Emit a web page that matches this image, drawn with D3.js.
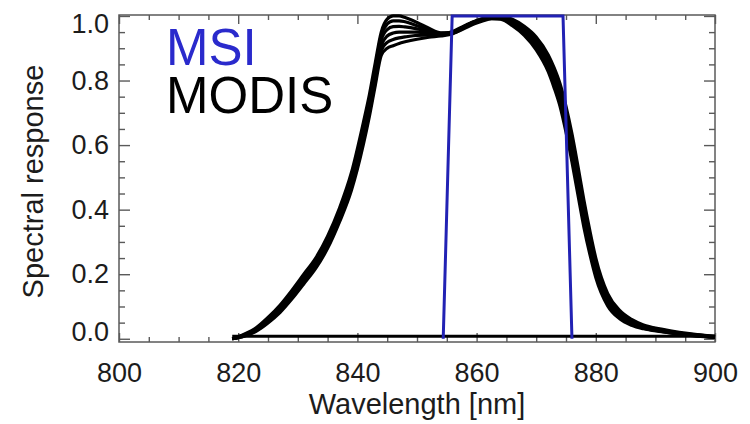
<!DOCTYPE html>
<html>
<head>
<meta charset="utf-8">
<script src="https://cdn.jsdelivr.net/npm/d3@7/dist/d3.min.js"></script>
<style>
  html, body { margin: 0; padding: 0; background: #fff; }
  svg { display: block; font-family: "Liberation Sans", Arial, Helvetica, sans-serif; }
</style>
</head>
<body>
<div id="chart"></div>
<script>
// spectral response, MSI band vs MODIS detectors
// D3 v7, static svg

// ─── Data ─────────────────────────────────────────────────────────────────────

const wavelengths = [819, 821, 823, 825, 827, 829, 831, 833, 835, 837, 839, 841, 842, 843, 844, 845, 846, 847, 848, 850,
  852, 854, 856, 858, 860, 862, 864, 866, 868, 870, 872, 873, 874, 875, 876, 877, 878, 879, 880, 882,
  884, 886, 888, 891, 894, 897, 900];

// one row per MODIS detector
const modisD1 = [0.000, 0.014, 0.034, 0.066, 0.104, 0.150, 0.200, 0.250, 0.318, 0.405, 0.515, 0.670, 0.755, 0.855, 0.950, 0.990, 1.000, 1.000, 0.995, 0.980,
  0.962, 0.948, 0.948, 0.962, 0.978, 0.990, 0.998, 0.990, 0.968, 0.935, 0.880, 0.840, 0.790, 0.720, 0.635, 0.535, 0.430, 0.335, 0.250, 0.140,
  0.088, 0.060, 0.043, 0.030, 0.020, 0.013, 0.008];
const modisD2 = [0.000, 0.012, 0.031, 0.062, 0.098, 0.144, 0.194, 0.242, 0.308, 0.394, 0.500, 0.655, 0.740, 0.840, 0.940, 0.975, 0.985, 0.985, 0.982, 0.970,
  0.957, 0.946, 0.950, 0.966, 0.982, 0.993, 0.996, 0.985, 0.962, 0.925, 0.868, 0.826, 0.772, 0.700, 0.612, 0.512, 0.410, 0.318, 0.235, 0.130,
  0.080, 0.055, 0.040, 0.028, 0.018, 0.012, 0.007];
const modisD3 = [0.000, 0.011, 0.029, 0.058, 0.093, 0.138, 0.188, 0.236, 0.300, 0.385, 0.490, 0.640, 0.725, 0.825, 0.925, 0.958, 0.967, 0.968, 0.966, 0.960,
  0.952, 0.945, 0.950, 0.968, 0.984, 0.994, 0.995, 0.982, 0.957, 0.918, 0.858, 0.814, 0.758, 0.684, 0.595, 0.494, 0.392, 0.302, 0.222, 0.122,
  0.075, 0.051, 0.037, 0.026, 0.017, 0.011, 0.006];
const modisD4 = [0.000, 0.010, 0.027, 0.055, 0.089, 0.133, 0.182, 0.230, 0.294, 0.377, 0.480, 0.628, 0.712, 0.810, 0.908, 0.938, 0.947, 0.950, 0.950, 0.950,
  0.947, 0.944, 0.952, 0.970, 0.986, 0.995, 0.994, 0.978, 0.952, 0.910, 0.848, 0.802, 0.745, 0.668, 0.578, 0.476, 0.376, 0.288, 0.210, 0.115,
  0.070, 0.048, 0.035, 0.024, 0.016, 0.010, 0.005];
const modisD5 = [0.000, 0.009, 0.025, 0.052, 0.085, 0.128, 0.176, 0.224, 0.287, 0.370, 0.470, 0.615, 0.700, 0.798, 0.893, 0.918, 0.927, 0.932, 0.935, 0.940,
  0.941, 0.942, 0.950, 0.968, 0.985, 0.994, 0.992, 0.974, 0.946, 0.902, 0.838, 0.790, 0.732, 0.654, 0.562, 0.460, 0.360, 0.275, 0.200, 0.108,
  0.066, 0.045, 0.033, 0.023, 0.015, 0.009, 0.005];
const modisD6 = [0.000, 0.008, 0.023, 0.049, 0.081, 0.123, 0.170, 0.218, 0.280, 0.362, 0.460, 0.602, 0.688, 0.785, 0.878, 0.900, 0.908, 0.915, 0.920, 0.928,
  0.934, 0.938, 0.945, 0.964, 0.982, 0.992, 0.990, 0.970, 0.940, 0.895, 0.828, 0.778, 0.720, 0.640, 0.548, 0.446, 0.346, 0.262, 0.190, 0.102,
  0.062, 0.042, 0.031, 0.022, 0.014, 0.008, 0.004];

// flat zero line under the MODIS curves
const baselineWavelengths = [819, 900];
const baselineValues = [0.008, 0.008];

// MSI band 8A, near-rectangular
const msiWavelengths = [854.4, 855.9, 874.5, 876.0];
const msiValues = [0, 1, 1, 0];

const xTicks = [800, 820, 840, 860, 880, 900];
const yTicks = [0.0, 0.2, 0.4, 0.6, 0.8, 1.0];

// ─── Layout ───────────────────────────────────────────────────────────────────

const W = 750, H = 424;
const box = { left: 119, right: 715, top: 15, bottom: 342 };
const INK = '#1c1c1c';
const AXIS = '#5a5a5a';
const BLUE = '#2222b4';

const svg = d3.select('#chart').append('svg')
  .attr('width', W)
  .attr('height', H);

const x = d3.scaleLinear().domain([800, 900]).range([box.left, box.right]);
const y = d3.scaleLinear().domain([-0.01, 1.003]).range([box.bottom, box.top]);

// ─── Axes ─────────────────────────────────────────────────────────────────────

const xMinor = d3.range(800, 901, 5).filter(v => v % 20 !== 0);
const yMinor = d3.range(0, 21).map(i => i * 0.05).filter((v, i) => i % 4 !== 0);

function styleAxis(g) {
  g.select('.domain').remove();
  g.selectAll('line').attr('stroke', AXIS).attr('stroke-width', 1.4);
  g.selectAll('text').attr('fill', INK).attr('font-size', 27);
}

// bottom: labels + inward ticks
svg.append('g')
  .attr('transform', `translate(0,${box.bottom})`)
  .call(d3.axisBottom(x).tickValues(xTicks).tickSize(-9).tickPadding(21).tickFormat(d3.format('d')))
  .call(styleAxis);
svg.append('g')
  .attr('transform', `translate(0,${box.bottom})`)
  .call(d3.axisBottom(x).tickValues(xMinor).tickSize(-5).tickFormat(''))
  .call(styleAxis);

// top: ticks only
svg.append('g')
  .attr('transform', `translate(0,${box.top})`)
  .call(d3.axisTop(x).tickValues(xTicks).tickSize(-9).tickFormat(''))
  .call(styleAxis);
svg.append('g')
  .attr('transform', `translate(0,${box.top})`)
  .call(d3.axisTop(x).tickValues(xMinor).tickSize(-5).tickFormat(''))
  .call(styleAxis);

// left: labels + inward ticks
const yAxisG = svg.append('g')
  .attr('transform', `translate(${box.left},0)`)
  .call(d3.axisLeft(y).tickValues(yTicks).tickSize(-11).tickPadding(10).tickFormat(d3.format('.1f')))
  .call(styleAxis);
svg.append('g')
  .attr('transform', `translate(${box.left},0)`)
  .call(d3.axisLeft(y).tickValues(yMinor).tickSize(-6).tickFormat(''))
  .call(styleAxis);

// end labels sit inside the box like the original
yAxisG.selectAll('.tick text')
  .attr('dy', d => d === 0 ? '0.05em' : d === 1 ? '0.62em' : '0.32em');

// right: ticks only
svg.append('g')
  .attr('transform', `translate(${box.right},0)`)
  .call(d3.axisRight(y).tickValues(yTicks).tickSize(-11).tickFormat(''))
  .call(styleAxis);
svg.append('g')
  .attr('transform', `translate(${box.right},0)`)
  .call(d3.axisRight(y).tickValues(yMinor).tickSize(-6).tickFormat(''))
  .call(styleAxis);

// frame
svg.append('rect')
  .attr('x', box.left)
  .attr('y', box.top)
  .attr('width', box.right - box.left)
  .attr('height', box.bottom - box.top)
  .attr('fill', 'none')
  .attr('stroke', AXIS)
  .attr('stroke-width', 1.5);

// ─── Curves ───────────────────────────────────────────────────────────────────

const line = d3.line()
  .x(d => x(d[0]))
  .y(d => y(d[1]))
  .curve(d3.curveMonotoneX);

const detectors = [modisD1, modisD2, modisD3, modisD4, modisD5, modisD6];

svg.append('path')
  .datum(d3.zip(baselineWavelengths, baselineValues))
  .attr('d', d3.line().x(d => x(d[0])).y(d => y(d[1])))
  .attr('fill', 'none')
  .attr('stroke', '#000')
  .attr('stroke-width', 3);

svg.append('g')
  .selectAll('path')
  .data(detectors.map(vals => d3.zip(wavelengths, vals)))
  .join('path')
  .attr('d', line)
  .attr('fill', 'none')
  .attr('stroke', '#000')
  .attr('stroke-width', 3.2)
  .attr('stroke-linejoin', 'round');

svg.append('path')
  .datum(d3.zip(msiWavelengths, msiValues))
  .attr('d', d3.line().x(d => x(d[0])).y(d => y(d[1])))
  .attr('fill', 'none')
  .attr('stroke', BLUE)
  .attr('stroke-width', 3)
  .attr('stroke-linejoin', 'miter');

// ─── Titles & legend ─────────────────────────────────────────────────────────

svg.append('text')
  .attr('x', (box.left + box.right) / 2)
  .attr('y', 414)
  .attr('text-anchor', 'middle')
  .attr('font-size', 29)
  .attr('fill', INK)
  .text('Wavelength [nm]');

svg.append('text')
  .attr('transform', `translate(33,${(box.top + box.bottom) / 2 + 3}) rotate(-90)`)
  .attr('dy', '0.35em')
  .attr('text-anchor', 'middle')
  .attr('font-size', 29)
  .attr('fill', INK)
  .text('Spectral response');

svg.append('text')
  .attr('x', 166)
  .attr('y', 65)
  .attr('font-size', 51)
  .attr('fill', '#2a2acc')
  .text('MSI');

svg.append('text')
  .attr('x', 166)
  .attr('y', 113)
  .attr('font-size', 51)
  .attr('fill', '#000')
  .text('MODIS');
</script>
</body>
</html>
